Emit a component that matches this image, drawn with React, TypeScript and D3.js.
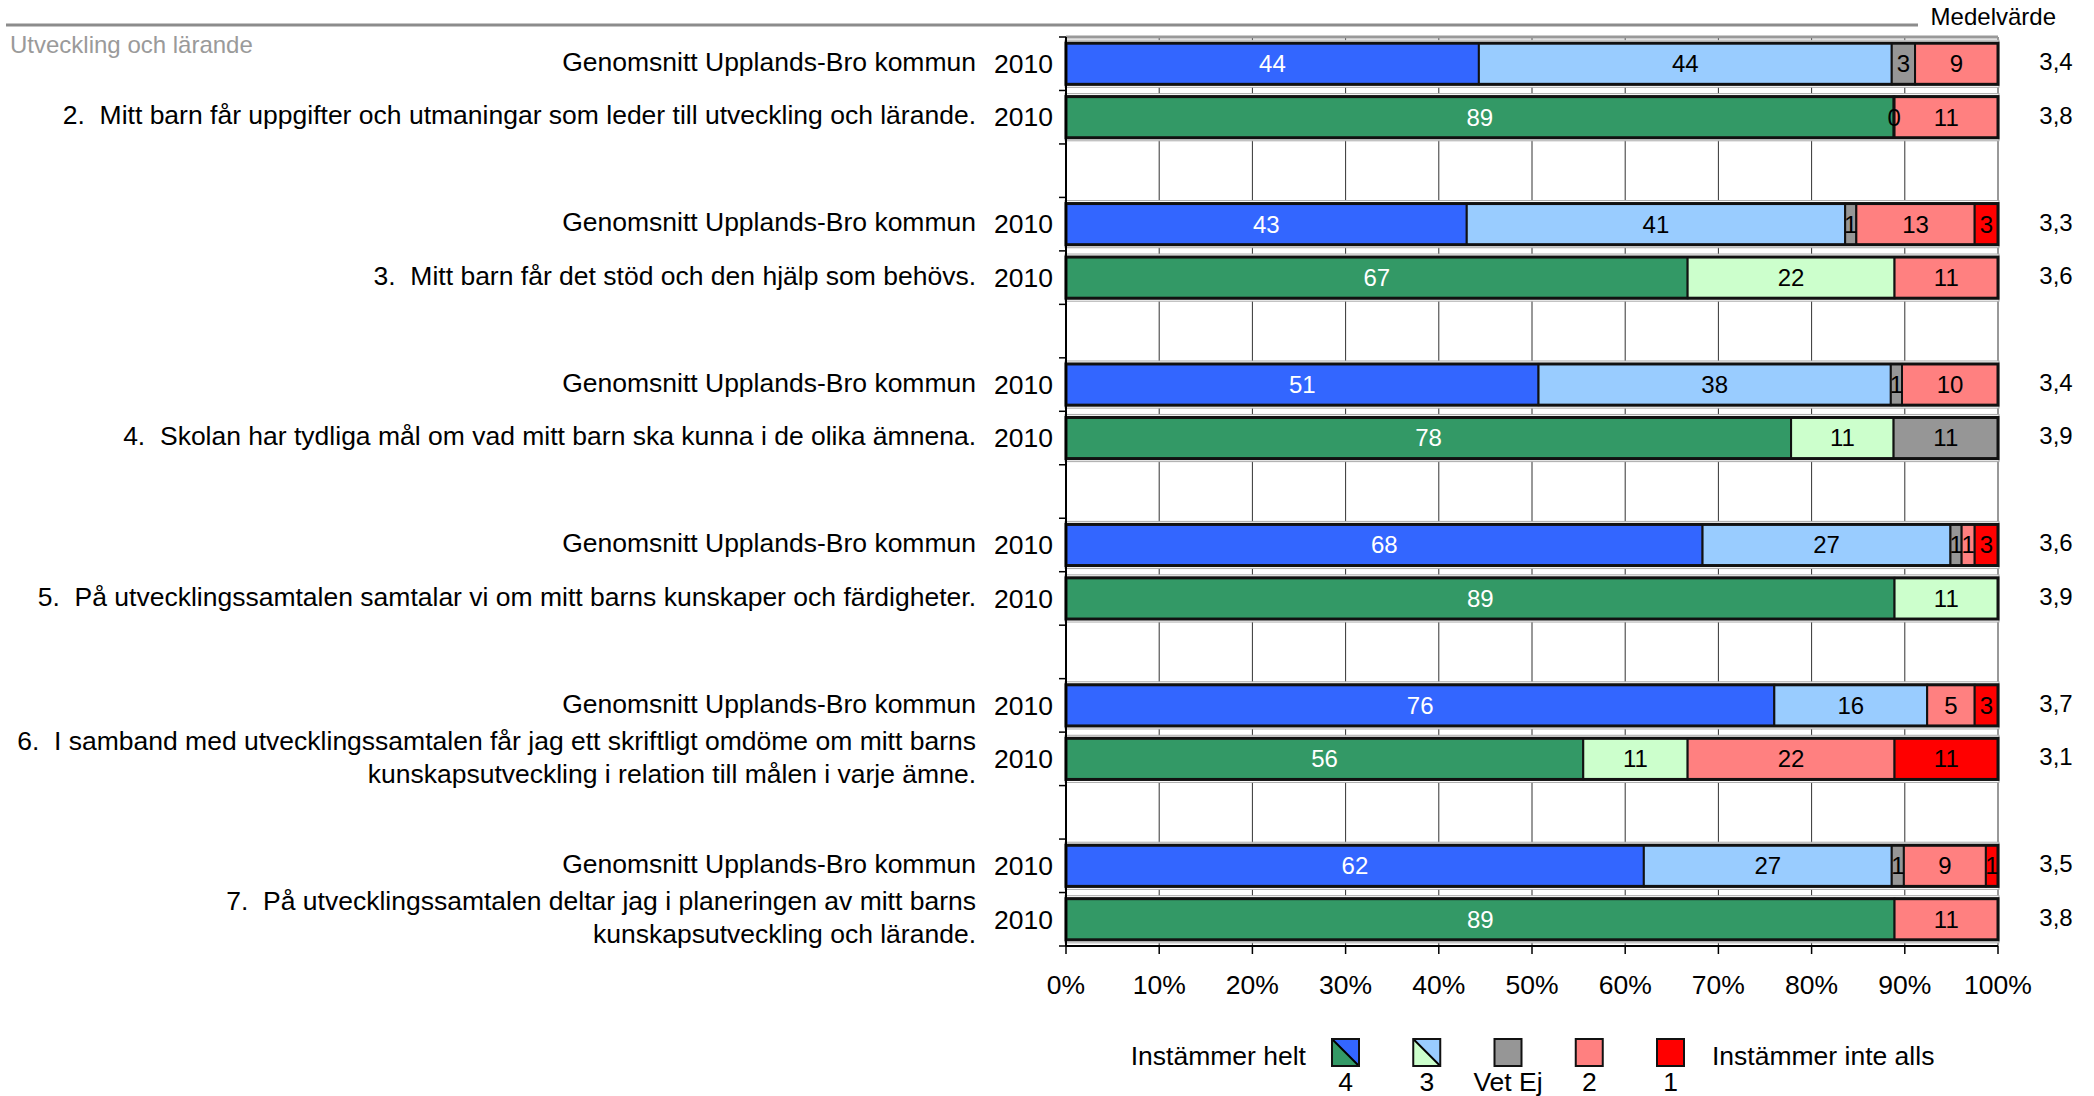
import React from 'react';
import * as d3 from 'd3';

// Data
const kommunLabel = 'Genomsnitt Upplands-Bro kommun';
const year = '2010';
const itemLabels: string[][] = [
  ['2.  Mitt barn får uppgifter och utmaningar som leder till utveckling och lärande.'],
  ['3.  Mitt barn får det stöd och den hjälp som behövs.'],
  ['4.  Skolan har tydliga mål om vad mitt barn ska kunna i de olika ämnena.'],
  ['5.  På utvecklingssamtalen samtalar vi om mitt barns kunskaper och färdigheter.'],
  ['6.  I samband med utvecklingssamtalen får jag ett skriftligt omdöme om mitt barns', 'kunskapsutveckling i relation till målen i varje ämne.'],
  ['7.  På utvecklingssamtalen deltar jag i planeringen av mitt barns', 'kunskapsutveckling och lärande.'],
];
// order: 4, 3, Vet Ej, 2, 1
const kommunValues: number[][] = [
  [44.3, 44.3, 2.5, 8.9, 0],
  [43.0, 40.6, 1.2, 12.7, 2.5],
  [50.7, 37.8, 1.2, 10.3, 0],
  [68.3, 26.6, 1.2, 1.4, 2.5],
  [76.0, 16.4, 0, 5.1, 2.5],
  [62.0, 26.6, 1.3, 8.8, 1.3],
];
const schoolValues: number[][] = [
  [88.8, 0.1, 0, 11.1, 0],
  [66.7, 22.2, 0, 11.1, 0],
  [77.8, 11.0, 11.2, 0, 0],
  [88.9, 11.1, 0, 0, 0],
  [55.5, 11.2, 0, 22.2, 11.1],
  [88.9, 0, 0, 11.1, 0],
];
const kommunMeans = ['3,4', '3,3', '3,4', '3,6', '3,7', '3,5'];
const schoolMeans = ['3,8', '3,6', '3,9', '3,9', '3,1', '3,8'];
const xTicks = [0, 10, 20, 30, 40, 50, 60, 70, 80, 90, 100];
const legendLabels = ['4', '3', 'Vet Ej', '2', '1'];

const kommunColors = ['#3366FF', '#99CCFF', '#969696', '#FF8080', '#FF0000'];
const schoolColors = ['#339966', '#CCFFCC', '#969696', '#FF8080', '#FF0000'];

const W = 2094;
const H = 1096;
const font = '"Liberation Sans", Arial, sans-serif';
const fs = 26.5;

export default function App() {
  const nSlots = 17;
  const x = d3.scaleLinear().domain([0, 100]).range([1066, 1998]);
  const y = d3.scaleBand<number>().domain(d3.range(nSlots)).range([37, 946]).padding(0);
  const bw = y.bandwidth();
  const barH = bw * 0.77;
  const barOff = (bw - barH) / 2;

  const rows: { slot: number; values: number[]; colors: string[]; mean: string; label: string[] }[] = [];
  itemLabels.forEach((lab, g) => {
    rows.push({ slot: g * 3, values: kommunValues[g], colors: kommunColors, mean: kommunMeans[g], label: [kommunLabel] });
    rows.push({ slot: g * 3 + 1, values: schoolValues[g], colors: schoolColors, mean: schoolMeans[g], label: lab });
  });

  const x0 = x(0);
  const x1 = x(100);
  const yTop = y.range()[0];
  const yBot = y.range()[1];

  return (
    <svg width={W} height={H} style={{ position: 'absolute', left: 0, top: 0, background: '#fff' }} fontFamily={font}>
      {/* header */}
      <line x1={6} x2={1918} y1={25} y2={25} stroke="#8c8c8c" strokeWidth={3} />
      <text x={10} y={45} dy="0.35em" fontSize={24} fill="#9a9a9a">Utveckling och lärande</text>
      <text x={2056} y={17} dy="0.35em" fontSize={24} textAnchor="end" fill="#000">Medelvärde</text>

      {/* grid */}
      {xTicks.map(t => (
        <line key={'g' + t} x1={x(t)} x2={x(t)} y1={yTop} y2={yBot} stroke={t === 100 ? '#999' : '#333'} strokeWidth={t === 100 ? 2 : 1} />
      ))}
      <line x1={x0} x2={x1} y1={yTop} y2={yTop} stroke="#999" strokeWidth={3} />

      {/* bars */}
      {rows.map((r, i) => {
        const top = (y(r.slot) as number) + barOff;
        const cy = (y(r.slot) as number) + bw / 2;
        let acc = 0;
        const segs = r.values.map((v, k) => {
          const s = { start: acc, v, k };
          acc += v;
          return s;
        });
        return (
          <g key={'r' + i}>
            <rect x={x0 - 1} y={top - 3} width={x1 - x0 + 2} height={barH + 6} fill="#fff" stroke="#aaa" strokeWidth={1} />
            {segs.filter(s => s.v > 0).map(s => (
              <rect key={s.k} x={x(s.start)} y={top} width={x(s.start + s.v) - x(s.start)} height={barH}
                fill={r.colors[s.k]} stroke="#111" strokeWidth={2} />
            ))}
            <rect x={x0} y={top} width={x1 - x0} height={barH} fill="none" stroke="#111" strokeWidth={3} />
            {segs.filter(s => s.v > 0).map(s => (
              <text key={'t' + s.k} x={(x(s.start) + x(s.start + s.v)) / 2} y={cy} dy="0.35em" textAnchor="middle"
                fontSize={24} fill={s.k === 0 ? '#fff' : '#000'}>{Math.round(s.v)}</text>
            ))}
            <text x={2056} y={cy - 2} dy="0.35em" textAnchor="middle" fontSize={24}>{r.mean}</text>
            <text x={1053} y={cy} dy="0.35em" textAnchor="end" fontSize={fs}>{year}</text>
            {r.label.map((l, li) => (
              <text key={'l' + li} x={976} y={cy - 2 + (li - (r.label.length - 1) / 2) * 33} dy="0.35em"
                textAnchor="end" fontSize={fs} style={{ whiteSpace: 'pre' }}>{l}</text>
            ))}
          </g>
        );
      })}

      {/* y axis */}
      <line x1={x0} x2={x0} y1={yTop} y2={yBot} stroke="#000" strokeWidth={2} />
      {d3.range(nSlots + 1).map(i => {
        const yy = yTop + i * bw;
        return <line key={'yt' + i} x1={x0 - 7} x2={x0} y1={yy} y2={yy} stroke="#000" strokeWidth={1.5} />;
      })}

      {/* x axis */}
      <line x1={x0} x2={x1} y1={yBot} y2={yBot} stroke="#000" strokeWidth={2} />
      {xTicks.map(t => (
        <g key={'xt' + t}>
          <line x1={x(t)} x2={x(t)} y1={yBot} y2={yBot + 8} stroke="#000" strokeWidth={1.5} />
          <text x={x(t)} y={985} dy="0.35em" textAnchor="middle" fontSize={fs}>{t}%</text>
        </g>
      ))}

      {/* legend */}
      <text x={1306} y={1056} dy="0.35em" textAnchor="end" fontSize={fs}>Instämmer helt</text>
      {legendLabels.map((lab, i) => {
        const bx = 1332 + i * 81.25;
        const by = 1039;
        const s = 27;
        return (
          <g key={'lg' + i}>
            {i < 2 ? (
              <>
                <polygon points={`${bx},${by} ${bx + s},${by} ${bx + s},${by + s}`} fill={kommunColors[i]} />
                <polygon points={`${bx},${by} ${bx},${by + s} ${bx + s},${by + s}`} fill={schoolColors[i]} />
                <line x1={bx} y1={by} x2={bx + s} y2={by + s} stroke="#000" strokeWidth={2} />
              </>
            ) : (
              <rect x={bx} y={by} width={s} height={s} fill={kommunColors[i]} />
            )}
            <rect x={bx} y={by} width={s} height={s} fill="none" stroke="#111" strokeWidth={2} />
            <text x={bx + s / 2} y={1082} dy="0.35em" textAnchor="middle" fontSize={fs}>{lab}</text>
          </g>
        );
      })}
      <text x={1712} y={1056} dy="0.35em" fontSize={fs}>Instämmer inte alls</text>
    </svg>
  );
}
